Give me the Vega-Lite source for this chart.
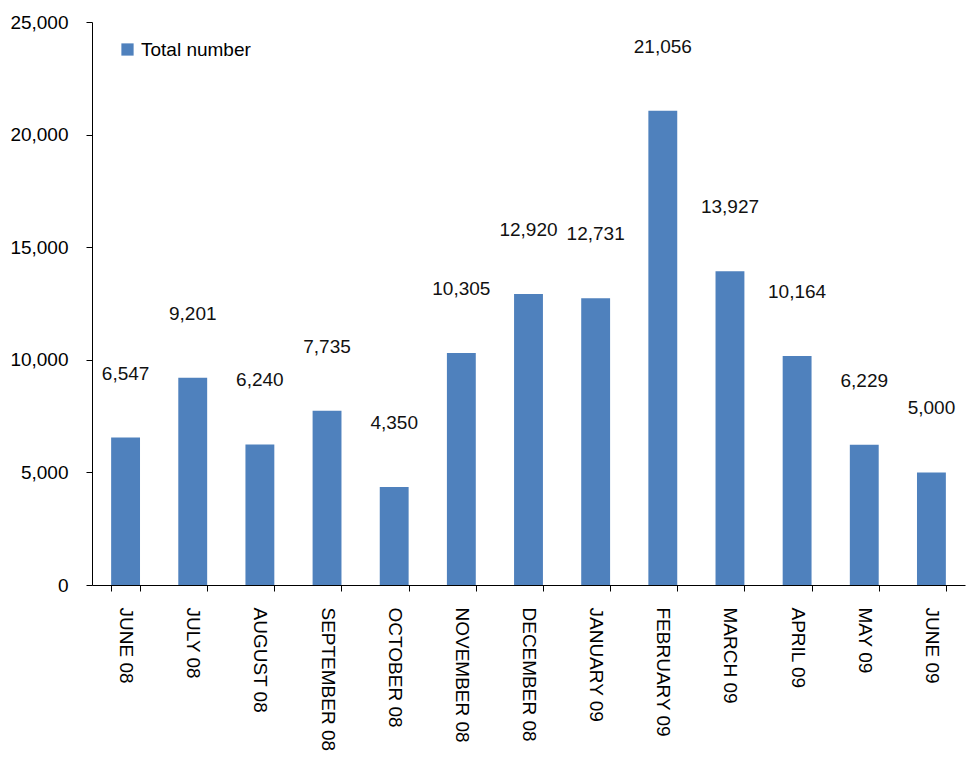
{
  "$schema": "https://vega.github.io/schema/vega-lite/v6.json",
  "width": 873,
  "height": 563,
  "autosize": {"type": "none"},
  "padding": {"left": 92, "top": 22, "right": 2, "bottom": 172},
  "background": "white",
  "config": {
    "view": {"stroke": null},
    "font": "Liberation Sans"
  },
  "data": {
    "values": [
      {"month": "JUNE 08", "value": 6547, "series": "Total number"},
      {"month": "JULY 08", "value": 9201, "series": "Total number"},
      {"month": "AUGUST 08", "value": 6240, "series": "Total number"},
      {"month": "SEPTEMBER 08", "value": 7735, "series": "Total number"},
      {"month": "OCTOBER 08", "value": 4350, "series": "Total number"},
      {"month": "NOVEMBER 08", "value": 10305, "series": "Total number"},
      {"month": "DECEMBER 08", "value": 12920, "series": "Total number"},
      {"month": "JANUARY 09", "value": 12731, "series": "Total number"},
      {"month": "FEBRUARY 09", "value": 21056, "series": "Total number"},
      {"month": "MARCH 09", "value": 13927, "series": "Total number"},
      {"month": "APRIL 09", "value": 10164, "series": "Total number"},
      {"month": "MAY 09", "value": 6229, "series": "Total number"},
      {"month": "JUNE 09", "value": 5000, "series": "Total number"}
    ]
  },
  "encoding": {
    "x": {
      "field": "month",
      "type": "nominal",
      "sort": null,
      "scale": {"paddingInner": 0.57, "paddingOuter": 0.285},
      "axis": {
        "title": null,
        "labelAngle": 90,
        "labelAlign": "left",
        "labelBaseline": "middle",
        "labelFontSize": 19,
        "labelColor": "#000000",
        "labelPadding": 16,
        "bandPosition": 0,
        "tickBand": "extent",
        "tickSize": 6,
        "tickColor": "#000000",
        "domainColor": "#000000",
        "domainWidth": 1
      }
    },
    "y": {
      "field": "value",
      "type": "quantitative",
      "scale": {"domain": [0, 25000]},
      "axis": {
        "title": null,
        "values": [0, 5000, 10000, 15000, 20000, 25000],
        "format": ",.0f",
        "grid": false,
        "labelFontSize": 19,
        "labelColor": "#000000",
        "labelPadding": 18,
        "tickSize": 6,
        "tickColor": "#000000",
        "domainColor": "#000000"
      }
    }
  },
  "layer": [
    {
      "mark": {"type": "bar"},
      "encoding": {
        "color": {
          "field": "series",
          "type": "nominal",
          "scale": {"range": ["#4F81BD"]},
          "legend": {
            "title": null,
            "orient": "none",
            "legendX": 26,
            "legendY": 18,
            "symbolType": "square",
            "symbolSize": 150,
            "symbolStrokeWidth": 0,
            "labelFontSize": 19,
            "labelColor": "#000000",
            "labelOffset": 4
          }
        }
      }
    },
    {
      "mark": {"type": "text", "dy": -64, "fontSize": 19, "color": "#111111", "baseline": "middle"},
      "encoding": {
        "text": {"field": "value", "type": "quantitative", "format": ",.0f"}
      }
    }
  ]
}
